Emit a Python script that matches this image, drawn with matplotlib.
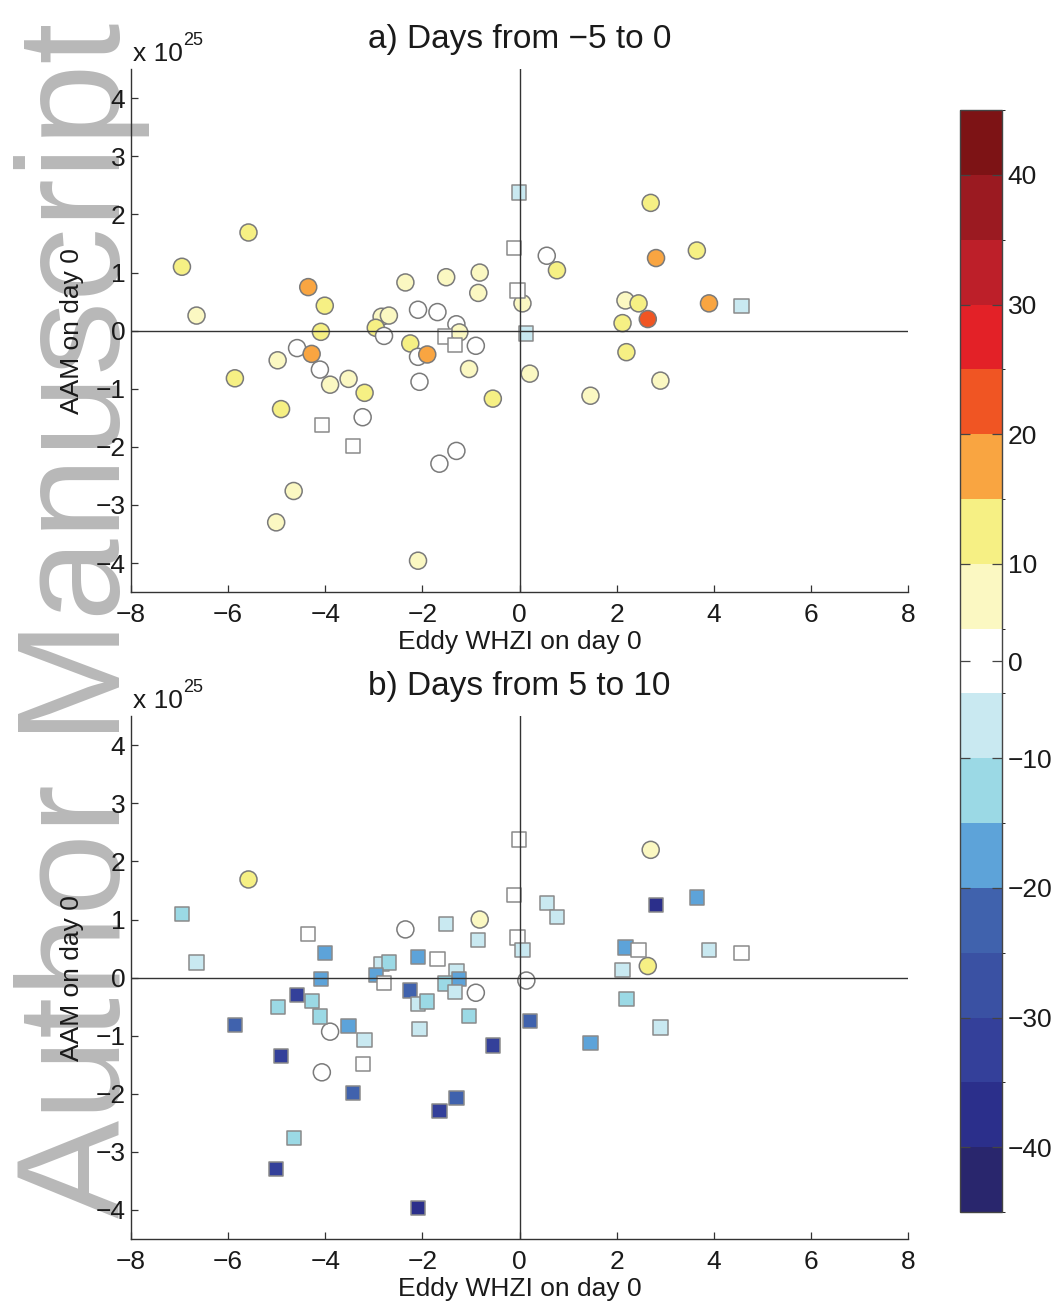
import matplotlib
matplotlib.use("Agg")
import matplotlib.pyplot as plt
import numpy as np
from matplotlib.colors import ListedColormap, BoundaryNorm
from matplotlib.cm import ScalarMappable

plt.rcParams['font.family'] = ['Liberation Sans', 'DejaVu Sans']

# one entry per event: eddy WHZI on day 0 and AAM on day 0 (x 1e25)
whzi = [-6.95, -6.65, -5.58, -5.86, -4.98, -4.91, -4.65, -5.01, -4.58, -4.35,
        -4.28, -4.11, -4.01, -4.09, -3.90, -3.52, -3.19, -3.23, -4.07, -3.43,
        -2.84, -2.69, -2.96, -2.79, -2.35, -2.09, -1.69, -1.51, -0.82, -0.85,
        -1.30, -1.24, -1.54, -1.33, -2.25, -2.09, -1.90, -0.90, -2.06, -1.04,
        -0.55, -0.11, -0.04, 0.06, 0.14, 0.21, -0.01, 0.56, 0.77, 1.46,
        2.70, 2.81, 3.65, 2.18, 2.45, 2.64, 2.12, 2.20, 2.90, 3.90,
        4.57, -1.65, -1.30, -2.09]
aam = [1.10, 0.26, 1.69, -0.82, -0.51, -1.35, -2.76, -3.30, -0.30, 0.75,
       -0.40, -0.67, 0.43, -0.02, -0.93, -0.83, -1.07, -1.49, -1.63, -1.99,
       0.24, 0.26, 0.05, -0.09, 0.83, 0.36, 0.32, 0.92, 1.00, 0.65,
       0.11, -0.03, -0.10, -0.25, -0.22, -0.45, -0.41, -0.26, -0.88, -0.66,
       -1.17, 1.42, 0.69, 0.47, -0.05, -0.74, 2.38, 1.29, 1.04, -1.12,
       2.20, 1.25, 1.38, 0.52, 0.47, 0.20, 0.13, -0.37, -0.86, 0.47,
       0.43, -2.29, -2.07, -3.96]

# composite value of each event for the two windows
days_m5_0 = [12, 7, 12, 12, 7, 12, 7, 7, 2, 17,
             17, 2, 12, 12, 7, 7, 12, 2, -2, -2,
             7, 7, 12, 2, 7, 2, 2, 7, 7, 7,
             2, 7, -2, -2, 12, 2, 17, 2, 2, 7,
             12, -2, -2, 7, -7, 7, -7, 2, 12, 7,
             12, 17, 12, 7, 12, 22, 12, 12, 7, 17,
             -7, 2, 2, 7]
days_5_10 = [-12, -7, 12, -22, -12, -32, -12, -32, -32, -2,
             -12, -12, -17, -17, 2, -17, -7, -2, 2, -22,
             -7, -12, -17, -2, 2, -17, -2, -7, 7, -7,
             -7, -17, -12, -7, -22, -7, -12, 2, -7, -12,
             -32, -2, -2, -7, 2, -22, -2, -7, -7, -17,
             7, -37, -17, -17, -2, 12, -7, -12, -7, -7,
             -2, -32, -22, -37]

levels = [-45, -40, -35, -30, -25, -20, -15, -10, -5, 5, 10, 15, 20, 25, 30, 35, 40, 45]
level_colors = ['#29266d', '#2b2f8b', '#34409a', '#3a51a3', '#4062ad', '#5da3d9',
                '#9bd9e5', '#c9e9f1', '#ffffff', '#fbf8c2', '#f6f084', '#f9a541',
                '#f05523', '#e32127', '#bd1f29', '#9b1a21', '#7d1315']
cbar_ticks = [-40, -30, -20, -10, 0, 10, 20, 30, 40]

titles = ['a) Days from \u22125 to 0', 'b) Days from 5 to 10']

cmap = ListedColormap(level_colors)
norm = BoundaryNorm(levels, cmap.N)

fig = plt.figure(figsize=(10.56, 13.07), dpi=100)

# big grey watermark running up the left edge
fig.text(0.1136, 0.068, 'Author Manuscript', rotation=90, rotation_mode='anchor',
         ha='left', va='baseline', fontsize=106, color='#b8b8b8', zorder=-10)

x = np.array(whzi)
y = np.array(aam)

for k, (vals, title) in enumerate(zip([days_m5_0, days_5_10], titles)):
    bottom = 0.547 if k == 0 else 0.052
    ax = fig.add_axes([0.124, bottom, 0.736, 0.400])
    ax.patch.set_visible(False)
    v = np.array(vals)
    pos = v > 0
    ax.scatter(x[pos], y[pos], c=v[pos], cmap=cmap, norm=norm, marker='o', s=150,
               edgecolors='#7a7a7a', linewidths=1.1)
    ax.scatter(x[~pos], y[~pos], c=v[~pos], cmap=cmap, norm=norm, marker='s', s=105,
               edgecolors='#8a8a8a', linewidths=1.1)
    ax.axhline(0, color='#333333', lw=1.0)
    ax.axvline(0, color='#333333', lw=1.0)

    ax.set_xlim(-8, 8)
    ax.set_ylim(-4.5, 4.5)
    ax.set_xticks(np.arange(-8, 9, 2))
    ax.set_yticks(np.arange(-4, 5, 1))
    for side in ['top', 'right']:
        ax.spines[side].set_visible(False)
    for side in ['left', 'bottom']:
        ax.spines[side].set_color('#333333')
        ax.spines[side].set_linewidth(1.0)
    ax.tick_params(direction='in', length=5, width=0.9, color='#333333',
                   labelsize=19, labelcolor='#1a1a1a')
    ax.tick_params(axis='x', pad=8)
    ax.tick_params(axis='y', pad=4)

    ax.set_title(title, fontsize=24, pad=15, color='#1a1a1a')
    ax.set_xlabel('Eddy WHZI on day 0', fontsize=19, color='#1a1a1a')
    ax.set_ylabel('AAM on day 0', fontsize=19, color='#1a1a1a')
    ax.xaxis.set_label_coords(0.5, -0.073)
    ax.yaxis.set_label_coords(-0.06, 0.5)

    # scale factor of the y axis
    ax.text(0.003, 1.016, 'x 10', transform=ax.transAxes, fontsize=19,
            ha='left', va='baseline', color='#1a1a1a')
    ax.text(0.067, 1.046, '25', transform=ax.transAxes, fontsize=13,
            ha='left', va='baseline', color='#1a1a1a')

cax = fig.add_axes([0.909, 0.0727, 0.040, 0.843])
sm = ScalarMappable(norm=norm, cmap=cmap)
cbar = fig.colorbar(sm, cax=cax, ticks=cbar_ticks)
cbar.outline.set_edgecolor('#444444')
cbar.outline.set_linewidth(1.0)
cax.tick_params(direction='in', left=True, right=True, length=7, width=0.9,
                color='#444444', labelsize=19, labelcolor='#1a1a1a', pad=4)

fig.savefig('out.png', dpi=100)
